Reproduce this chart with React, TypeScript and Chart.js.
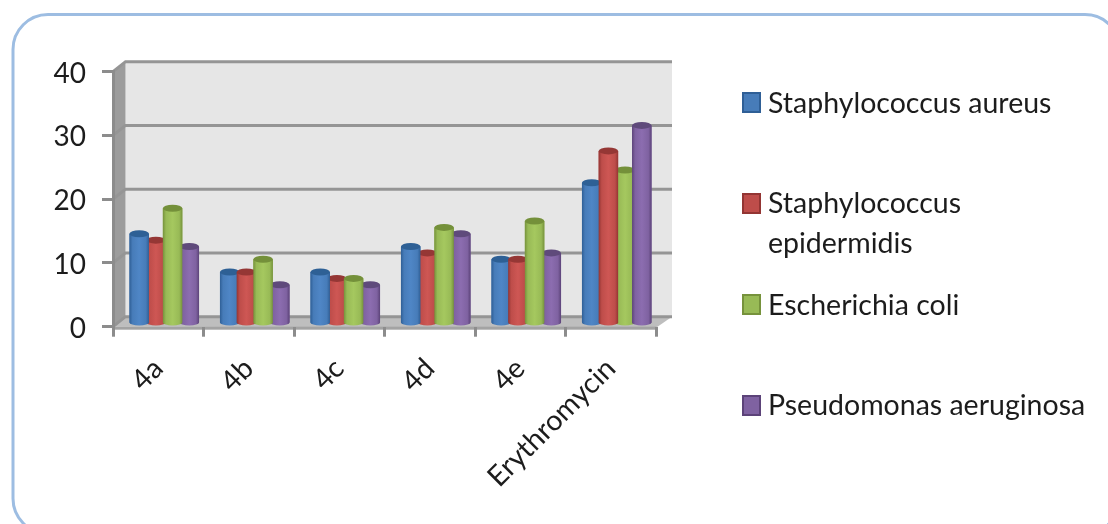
import React, { useEffect, useRef } from "react";
import { Chart, registerables } from "chart.js";

Chart.register(...registerables);

const categories = ["4a", "4b", "4c", "4d", "4e", "Erythromycin"];
const staphAureus = [14, 8, 8, 12, 10, 22];
const staphEpidermidis = [13, 8, 7, 11, 10, 27];
const eColi = [18, 10, 7, 15, 16, 24];
const pseudomonas = [12, 6, 6, 14, 11, 31];
const seriesNames = ["Staphylococcus aureus", "Staphylococcus epidermidis", "Escherichia coli", "Pseudomonas aeruginosa"];
const legendLines = [["Staphylococcus aureus"], ["Staphylococcus", "epidermidis"], ["Escherichia coli"], ["Pseudomonas aeruginosa"]];
const yTicks = [0, 10, 20, 30, 40];

const FONT = "Lato, Carlito, sans-serif";
const palette = [
  { mid: "#4F86C6", base: "#477CB9", edge: "#2F5F96", cap: "#2E6095" },
  { mid: "#CE5754", base: "#BE4D4A", edge: "#933533", cap: "#953735" },
  { mid: "#A5C85F", base: "#98BA56", edge: "#76923C", cap: "#74903A" },
  { mid: "#8C6DB0", base: "#7F62A1", edge: "#5C4379", cap: "#5F4A7B" },
];
const seriesValues = [staphAureus, staphEpidermidis, eColi, pseudomonas];

const DEPTH_X = 12.5;
const DEPTH_Y = -10;
const BAR_DX = 6;
const BAR_DY = -3.7;

const scene = {
  id: "scene",
  beforeDraw(chart: any) {
    const { ctx, chartArea: a, scales } = chart;
    const y = scales.y;
    ctx.save();
    ctx.fillStyle = "#fff";
    ctx.fillRect(0, 0, chart.width, chart.height);
    ctx.strokeStyle = "#9DBDE2";
    ctx.lineWidth = 3;
    ctx.beginPath();
    ctx.roundRect(13, 14.5, 1107, 519, 35);
    ctx.stroke();

    const backRight = a.right + 16;
    ctx.fillStyle = "#E6E6E6";
    ctx.fillRect(a.left + DEPTH_X, a.top + DEPTH_Y, backRight - a.left - DEPTH_X, a.bottom - a.top);
    ctx.fillStyle = "#9C9C9C";
    ctx.beginPath();
    ctx.moveTo(a.left, a.top);
    ctx.lineTo(a.left + DEPTH_X, a.top + DEPTH_Y);
    ctx.lineTo(a.left + DEPTH_X, a.bottom + DEPTH_Y);
    ctx.lineTo(a.left, a.bottom);
    ctx.closePath();
    ctx.fill();
    ctx.fillStyle = "#BEBEBE";
    ctx.beginPath();
    ctx.moveTo(a.left, a.bottom);
    ctx.lineTo(a.left + DEPTH_X, a.bottom + DEPTH_Y);
    ctx.lineTo(backRight, a.bottom + DEPTH_Y);
    ctx.lineTo(a.right, a.bottom + 1);
    ctx.closePath();
    ctx.fill();
    ctx.fillStyle = "#A3A3A3";
    ctx.fillRect(a.left, a.bottom, a.right - a.left, 3);
    ctx.strokeStyle = "#959595";
    ctx.lineWidth = 3;
    for (const v of yTicks) {
      const py = y.getPixelForValue(v);
      ctx.beginPath();
      ctx.moveTo(a.left, py);
      ctx.lineTo(a.left + DEPTH_X, py + DEPTH_Y);
      ctx.lineTo(backRight, py + DEPTH_Y);
      ctx.stroke();
    }
    ctx.restore();
  },
  beforeDatasetsDraw(chart: any) {
    chart.ctx.save();
    chart.ctx.translate(BAR_DX, BAR_DY);
  },
  afterDatasetsDraw(chart: any) {
    const { ctx } = chart;
    const metas = chart.data.datasets.map((_: any, i: number) => chart.getDatasetMeta(i));
    categories.forEach((_, c) => {
      const bars = metas
        .map((m: any, s: number) => ({ bar: m.data[c], s }))
        .sort((p: any, q: any) => q.bar.y - p.bar.y);
      for (const { bar, s } of bars) {
        const col = palette[s];
        const hw = bar.width / 2;
        const ry = 3.5;
        const grad = ctx.createLinearGradient(bar.x - hw, 0, bar.x + hw, 0);
        grad.addColorStop(0, col.edge);
        grad.addColorStop(0.16, col.base);
        grad.addColorStop(0.5, col.mid);
        grad.addColorStop(0.84, col.base);
        grad.addColorStop(1, col.edge);
        ctx.fillStyle = grad;
        ctx.beginPath();
        ctx.moveTo(bar.x - hw, bar.y);
        ctx.lineTo(bar.x - hw, bar.base);
        ctx.ellipse(bar.x, bar.base, hw, 3, 0, Math.PI, 0, true);
        ctx.lineTo(bar.x + hw, bar.y);
        ctx.closePath();
        ctx.fill();
        ctx.fillStyle = col.cap;
        ctx.beginPath();
        ctx.ellipse(bar.x, bar.y, hw, ry, 0, 0, Math.PI * 2);
        ctx.fill();
      }
    });
    ctx.restore();
  },
  afterDraw(chart: any) {
    const { ctx } = chart;
    const boxTops = [92, 193, 294, 395];
    const firstLine = [104, 204, 306, 406];
    ctx.save();
    ctx.font = `28.5px ${FONT}`;
    ctx.textBaseline = "middle";
    ctx.textAlign = "left";
    legendLines.forEach((lines, i) => {
      const col = palette[i];
      ctx.fillStyle = col.base;
      ctx.strokeStyle = col.edge;
      ctx.lineWidth = 2;
      ctx.fillRect(743, boxTops[i] + 1, 17, 19);
      ctx.strokeRect(743, boxTops[i] + 1, 17, 19);
      ctx.fillStyle = "#1c1c1c";
      lines.forEach((t, l) => ctx.fillText(t, 768, firstLine[i] + l * 40));
    });
    ctx.restore();
  },
};

export default function App() {
  const ref = useRef<HTMLCanvasElement>(null);
  useEffect(() => {
    const chart = new Chart(ref.current!, {
      type: "bar",
      data: {
        labels: categories,
        datasets: seriesValues.map((data, i) => ({
          label: seriesNames[i],
          data,
          backgroundColor: palette[i].base,
          categoryPercentage: 0.738,
          barPercentage: 1.167,
        })),
      },
      options: {
        animation: false,
        responsive: false,
        devicePixelRatio: 1,
        events: [],
        layout: { padding: { top: 71.7, right: 452, left: 0, bottom: 0 } },
        plugins: { legend: { display: false }, title: { display: false }, tooltip: { enabled: false } },
        scales: {
          x: {
            grid: { drawOnChartArea: false, tickLength: 10, tickWidth: 3, tickColor: "#8C8C8C", offset: true },
            border: { display: false },
            afterFit: (s: any) => { s.height = 524 - 326.7; },
            ticks: {
              autoSkip: false,
              minRotation: 45,
              maxRotation: 45,
              padding: 15,
              color: "#1c1c1c",
              font: { family: FONT, size: 28.5 },
            },
          },
          y: {
            min: 0,
            max: 40,
            grid: { drawOnChartArea: false, tickLength: 11, tickWidth: 3, tickColor: "#8C8C8C" },
            border: { display: true, color: "#8C8C8C", width: 3 },
            afterFit: (s: any) => { s.width = 113; },
            ticks: {
              stepSize: 10,
              padding: 16,
              labelOffset: 2,
              color: "#1c1c1c",
              font: { family: FONT, size: 28 },
            },
          },
        },
      },
      plugins: [scene],
    } as any);
    return () => chart.destroy();
  }, []);
  return (
    <div style={{ position: "absolute", left: 0, top: 0, width: 1108, height: 524, background: "#fff" }}>
      <canvas ref={ref} width={1108} height={524} style={{ display: "block", filter: "blur(0.7px)" }} />
    </div>
  );
}
